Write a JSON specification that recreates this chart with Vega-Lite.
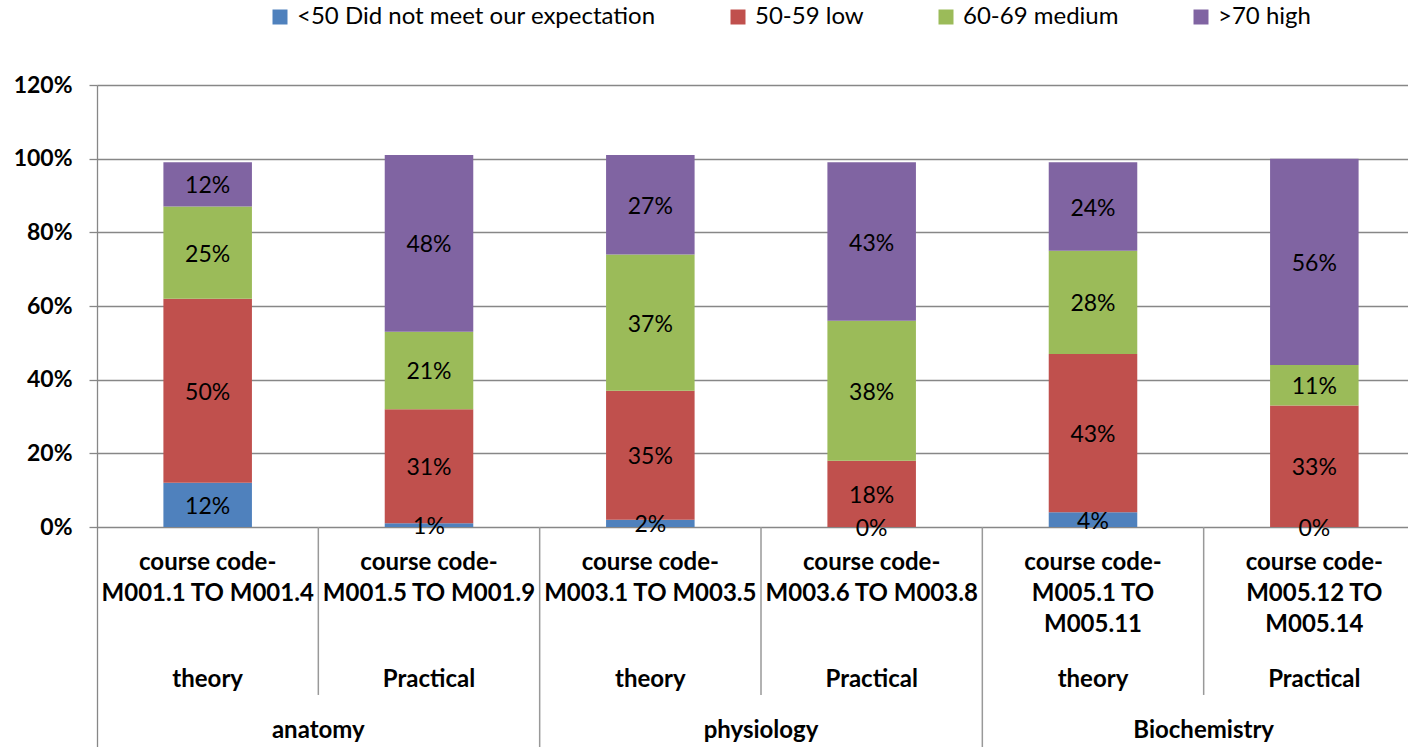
{
  "$schema": "https://vega.github.io/schema/vega-lite/v6.json",
  "autosize": "none",
  "width": 1328,
  "height": 663,
  "padding": {"left": 97, "top": 85, "right": 0, "bottom": 0},
  "background": "white",
  "config": {"font": "Lato", "view": {"stroke": null}},
  "datasets": {
    "bars": [
      {"cat": "anatomy theory", "series": "<50 Did not meet our expectation", "value": 0.12},
      {"cat": "anatomy theory", "series": "50-59 low", "value": 0.50},
      {"cat": "anatomy theory", "series": "60-69 medium", "value": 0.25},
      {"cat": "anatomy theory", "series": ">70 high", "value": 0.12},
      {"cat": "anatomy practical", "series": "<50 Did not meet our expectation", "value": 0.01},
      {"cat": "anatomy practical", "series": "50-59 low", "value": 0.31},
      {"cat": "anatomy practical", "series": "60-69 medium", "value": 0.21},
      {"cat": "anatomy practical", "series": ">70 high", "value": 0.48},
      {"cat": "physiology theory", "series": "<50 Did not meet our expectation", "value": 0.02},
      {"cat": "physiology theory", "series": "50-59 low", "value": 0.35},
      {"cat": "physiology theory", "series": "60-69 medium", "value": 0.37},
      {"cat": "physiology theory", "series": ">70 high", "value": 0.27},
      {"cat": "physiology practical", "series": "<50 Did not meet our expectation", "value": 0.0},
      {"cat": "physiology practical", "series": "50-59 low", "value": 0.18},
      {"cat": "physiology practical", "series": "60-69 medium", "value": 0.38},
      {"cat": "physiology practical", "series": ">70 high", "value": 0.43},
      {"cat": "biochemistry theory", "series": "<50 Did not meet our expectation", "value": 0.04},
      {"cat": "biochemistry theory", "series": "50-59 low", "value": 0.43},
      {"cat": "biochemistry theory", "series": "60-69 medium", "value": 0.28},
      {"cat": "biochemistry theory", "series": ">70 high", "value": 0.24},
      {"cat": "biochemistry practical", "series": "<50 Did not meet our expectation", "value": 0.0},
      {"cat": "biochemistry practical", "series": "50-59 low", "value": 0.33},
      {"cat": "biochemistry practical", "series": "60-69 medium", "value": 0.11},
      {"cat": "biochemistry practical", "series": ">70 high", "value": 0.56}
    ],
    "cats": [
      {"cat": "anatomy theory", "code": "course code-\nM001.1 TO M001.4", "type": "theory", "group": "anatomy", "sep": "sub"},
      {"cat": "anatomy practical", "code": "course code-\nM001.5 TO M001.9", "type": "Practical", "group": "anatomy", "sep": "group"},
      {"cat": "physiology theory", "code": "course code-\nM003.1 TO M003.5", "type": "theory", "group": "physiology", "sep": "sub"},
      {"cat": "physiology practical", "code": "course code-\nM003.6 TO M003.8", "type": "Practical", "group": "physiology", "sep": "group"},
      {"cat": "biochemistry theory", "code": "course code-\nM005.1 TO\nM005.11", "type": "theory", "group": "Biochemistry", "sep": "sub"},
      {"cat": "biochemistry practical", "code": "course code-\nM005.12 TO\nM005.14", "type": "Practical", "group": "Biochemistry", "sep": "group"}
    ]
  },
  "layer": [
    {
      "data": {"name": "bars"},
      "transform": [
        {"calculate": "indexof(['<50 Did not meet our expectation','50-59 low','60-69 medium','>70 high'], datum.series)", "as": "k"},
        {"stack": "value", "groupby": ["cat"], "sort": [{"field": "k", "order": "ascending"}], "as": ["y0", "y1"]},
        {"calculate": "(datum.y0 + datum.y1) / 2", "as": "ymid"}
      ],
      "layer": [
        {
          "mark": {"type": "bar", "width": {"band": 0.4}},
          "encoding": {
            "x": {"field": "cat", "type": "nominal", "axis": null,
                  "scale": {"type": "band", "paddingInner": 0, "paddingOuter": 0,
                            "domain": ["anatomy theory", "anatomy practical", "physiology theory", "physiology practical", "biochemistry theory", "biochemistry practical"]}},
            "y": {"field": "y0", "type": "quantitative",
                  "scale": {"domain": [-0.6, 1.2], "nice": false, "zero": false},
                  "axis": {"values": [0, 0.2, 0.4, 0.6, 0.8, 1.0, 1.2], "format": ".0%", "title": null,
                           "grid": true, "gridColor": "#878787", "gridWidth": 1.3,
                           "domainColor": "#878787", "domainWidth": 1.3,
                           "tickColor": "#878787", "tickWidth": 1.3, "tickSize": 8,
                           "labelFont": "Lato", "labelFontSize": 23, "labelFontWeight": "bold", "labelColor": "#000000",
                           "labelPadding": 17}},
            "y2": {"field": "y1"},
            "color": {"field": "series", "type": "nominal",
                      "scale": {"domain": ["<50 Did not meet our expectation", "50-59 low", "60-69 medium", ">70 high"],
                                "range": ["#4F81BD", "#C0504D", "#9BBB59", "#8064A2"]},
                      "legend": {"orient": "none", "legendX": 171, "legendY": -80, "direction": "horizontal", "columns": 4,
                                 "title": null, "symbolType": "square", "symbolSize": 225, "symbolStrokeWidth": 0,
                                 "symbolOpacity": 1, "labelFont": "Lato", "labelFontSize": 24, "labelColor": "#000000",
                                 "labelLimit": 600, "labelOffset": 5, "columnPadding": 70, "padding": 0}}
          }
        },
        {
          "mark": {"type": "text", "fontSize": 23, "color": "#000000", "baseline": "middle", "align": "center", "dy": 2},
          "encoding": {
            "x": {"field": "cat", "type": "nominal"},
            "y": {"field": "ymid", "type": "quantitative"},
            "text": {"field": "value", "type": "quantitative", "format": ".0%"}
          }
        }
      ]
    },
    {
      "data": {"name": "cats"},
      "layer": [
        {
          "transform": [{"filter": "datum.sep === 'sub'"}],
          "mark": {"type": "rule", "color": "#999999", "strokeWidth": 1.5},
          "encoding": {
            "x": {"field": "cat", "type": "nominal", "bandPosition": 1},
            "y": {"datum": 0, "type": "quantitative"},
            "y2": {"datum": -0.456}
          }
        },
        {
          "transform": [{"filter": "datum.sep === 'group'"}],
          "mark": {"type": "rule", "color": "#999999", "strokeWidth": 1.5},
          "encoding": {
            "x": {"field": "cat", "type": "nominal", "bandPosition": 1},
            "y": {"datum": 0, "type": "quantitative"},
            "y2": {"datum": -0.6}
          }
        },
        {
          "mark": {"type": "text", "fontSize": 24, "fontWeight": "bold", "color": "#000000", "align": "center", "baseline": "alphabetic", "lineBreak": "\n", "lineHeight": 31},
          "encoding": {
            "x": {"field": "cat", "type": "nominal"},
            "y": {"datum": -0.1168, "type": "quantitative"},
            "text": {"field": "code"}
          }
        },
        {
          "mark": {"type": "text", "fontSize": 24, "fontWeight": "bold", "color": "#000000", "align": "center", "baseline": "alphabetic"},
          "encoding": {
            "x": {"field": "cat", "type": "nominal"},
            "y": {"datum": -0.4344, "type": "quantitative"},
            "text": {"field": "type"}
          }
        },
        {
          "transform": [{"filter": "datum.sep === 'sub'"}],
          "mark": {"type": "text", "fontSize": 24, "fontWeight": "bold", "color": "#000000", "align": "center", "baseline": "alphabetic"},
          "encoding": {
            "x": {"field": "cat", "type": "nominal", "bandPosition": 1},
            "y": {"datum": -0.573, "type": "quantitative"},
            "text": {"field": "group"}
          }
        }
      ]
    }
  ]
}
